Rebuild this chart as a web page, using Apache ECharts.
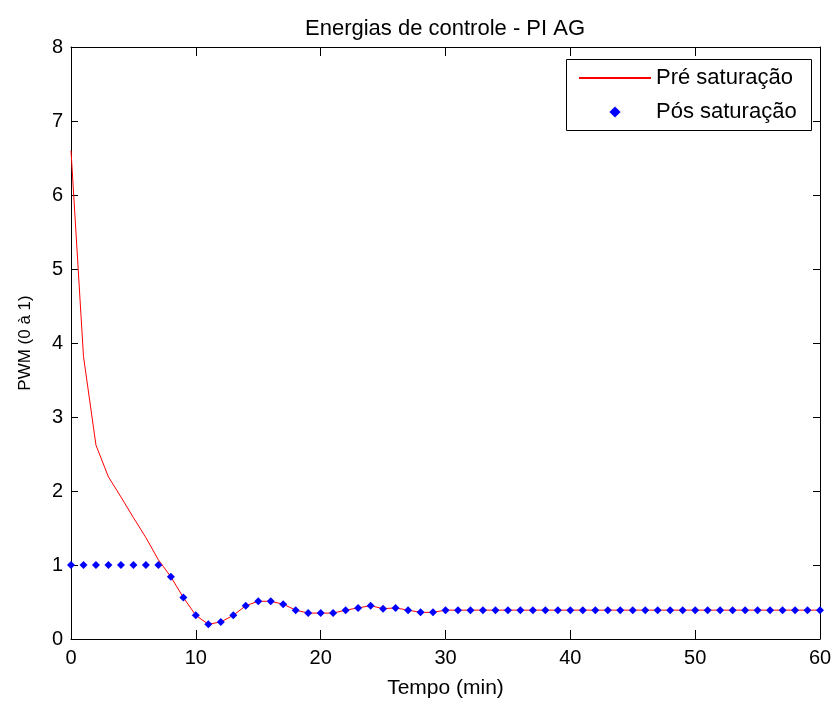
<!DOCTYPE html>
<html>
<head>
<meta charset="utf-8">
<script src="https://cdn.jsdelivr.net/npm/echarts@6/dist/echarts.min.js"></script>
<style>
  html, body { margin: 0; padding: 0; background: #fff; }
  #chart { width: 835px; height: 704px; }
</style>
</head>
<body>
<div id="chart"></div>
<script>
// tempo (min), uma amostra por minuto
const tempo = [0, 1, 2, 3, 4, 5, 6, 7, 8, 9, 10, 11, 12, 13, 14, 15, 16, 17, 18, 19, 20,
  21, 22, 23, 24, 25, 26, 27, 28, 29, 30, 31, 32, 33, 34, 35, 36, 37, 38, 39, 40,
  41, 42, 43, 44, 45, 46, 47, 48, 49, 50, 51, 52, 53, 54, 55, 56, 57, 58, 59, 60];

// sinal de controle antes da saturacao
const preSaturacao = [6.6, 3.82, 2.62, 2.19, 1.92, 1.64, 1.37, 1.07, 0.84, 0.56, 0.32,
  0.2, 0.23, 0.32, 0.45, 0.51, 0.51, 0.47, 0.39, 0.35, 0.35,
  0.35, 0.39, 0.42, 0.45, 0.41, 0.42, 0.39, 0.36, 0.36, 0.39,
  0.39, 0.39, 0.39, 0.39, 0.39, 0.39, 0.39, 0.39, 0.39, 0.39,
  0.39, 0.39, 0.39, 0.39, 0.39, 0.39, 0.39, 0.39, 0.39, 0.39,
  0.39, 0.39, 0.39, 0.39, 0.39, 0.39, 0.39, 0.39, 0.39, 0.39];

// sinal de controle depois da saturacao
const posSaturacao = [1, 1, 1, 1, 1, 1, 1, 1, 0.84, 0.56, 0.32,
  0.2, 0.23, 0.32, 0.45, 0.51, 0.51, 0.47, 0.39, 0.35, 0.35,
  0.35, 0.39, 0.42, 0.45, 0.41, 0.42, 0.39, 0.36, 0.36, 0.39,
  0.39, 0.39, 0.39, 0.39, 0.39, 0.39, 0.39, 0.39, 0.39, 0.39,
  0.39, 0.39, 0.39, 0.39, 0.39, 0.39, 0.39, 0.39, 0.39, 0.39,
  0.39, 0.39, 0.39, 0.39, 0.39, 0.39, 0.39, 0.39, 0.39, 0.39];

const nomes = ['Pré saturação', 'Pós saturação'];

const fonte = '"Liberation Sans", Arial, sans-serif';

let myChart = echarts.init(document.getElementById('chart'));

const eixoX = {
  type: 'value',
  min: 0,
  max: 60,
  interval: 10,
  axisLine: { onZero: false, lineStyle: { color: '#000', width: 1 } },
  axisTick: { inside: true, length: 9, lineStyle: { color: '#000' } },
  splitLine: { show: false }
};
const eixoY = {
  type: 'value',
  min: 0,
  max: 8,
  interval: 1,
  axisLine: { show: true, onZero: false, lineStyle: { color: '#000', width: 1 } },
  axisTick: { show: true, inside: true, length: 7, lineStyle: { color: '#000' } },
  splitLine: { show: false }
};

let option = {
  animation: false,
  backgroundColor: '#fff',
  title: {
    text: 'Energias de controle - PI AG',
    left: 445,
    textAlign: 'center',
    top: 18,
    padding: 0,
    textStyle: { fontFamily: fonte, fontSize: 22, fontWeight: 'normal', color: '#000' }
  },
  grid: { left: 71, top: 47, width: 749, height: 592 },
  xAxis: [
    Object.assign({}, eixoX, {
      position: 'bottom',
      name: 'Tempo (min)',
      nameLocation: 'middle',
      nameGap: 39,
      nameTextStyle: { fontFamily: fonte, fontSize: 21, color: '#000' },
      axisLabel: { margin: 9, fontFamily: fonte, fontSize: 20, color: '#000' }
    }),
    Object.assign({}, eixoX, { position: 'top', axisLabel: { show: false } })
  ],
  yAxis: [
    Object.assign({}, eixoY, {
      position: 'left',
      name: 'PWM (0 à 1)',
      nameLocation: 'middle',
      nameGap: 37,
      nameTextStyle: { fontFamily: fonte, fontSize: 17, color: '#000' },
      axisLabel: { margin: 8, fontFamily: fonte, fontSize: 20, color: '#000' }
    }),
    Object.assign({}, eixoY, { position: 'right', axisLabel: { show: false } })
  ],
  legend: {
    data: [
      { name: nomes[0], itemStyle: { opacity: 0 } },
      { name: nomes[1] }
    ],
    orient: 'vertical',
    left: 566,
    top: 59,
    padding: [8, 20, 8, 12],
    itemWidth: 72,
    itemHeight: 14,
    itemGap: 12,
    z: 10,
    textStyle: { fontFamily: fonte, fontSize: 22, lineHeight: 22, color: '#000' }
  },
  graphic: [{
    type: 'rect',
    z: 5,
    shape: { x: 566.5, y: 59.5, width: 245, height: 71 },
    style: { fill: '#fff', stroke: '#000', lineWidth: 1 }
  }],
  series: [
    {
      name: nomes[0],
      type: 'line',
      data: tempo.map((t, i) => [t, preSaturacao[i]]),
      symbol: 'none',
      lineStyle: { color: '#ff0000', width: 1 },
      itemStyle: { color: '#ff0000' },
      z: 2
    },
    {
      name: nomes[1],
      type: 'line',
      data: tempo.map((t, i) => [t, posSaturacao[i]]),
      symbol: 'diamond',
      symbolSize: 8,
      showSymbol: true,
      showAllSymbol: true,
      lineStyle: { width: 0, opacity: 0 },
      itemStyle: { color: '#0000ff' },
      z: 3
    }
  ]
};

option && myChart.setOption(option);
</script>
</body>
</html>
